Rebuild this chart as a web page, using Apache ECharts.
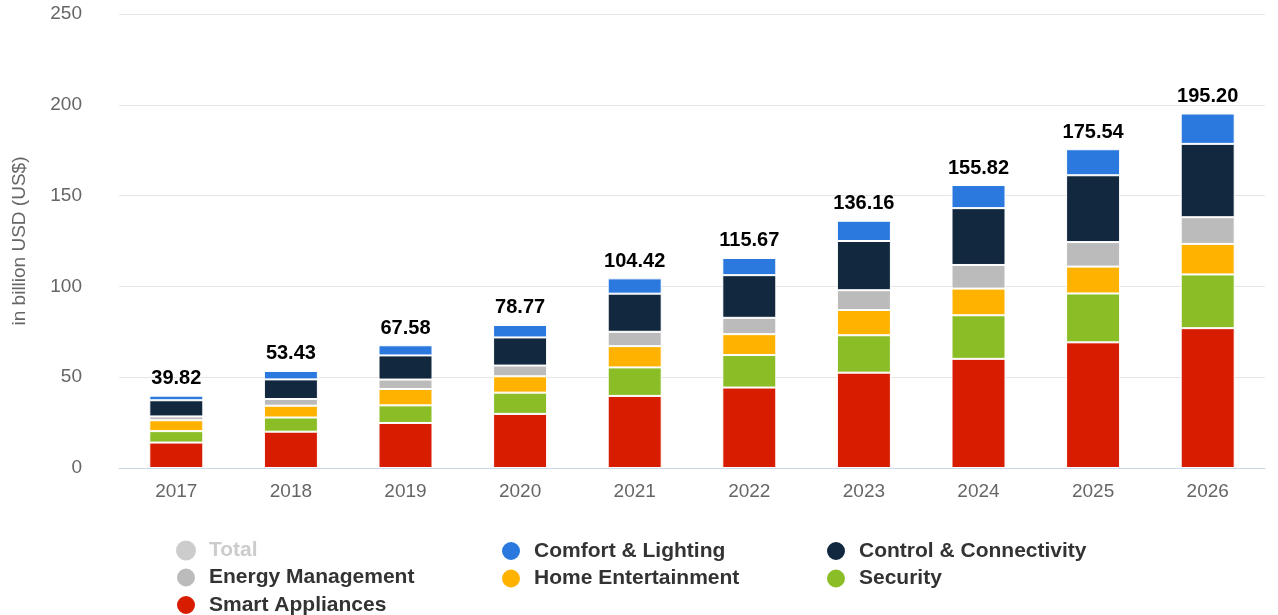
<!DOCTYPE html>
<html>
<head>
<meta charset="utf-8">
<script src="https://cdn.jsdelivr.net/npm/echarts@6/dist/echarts.min.js"></script>
<style>
html,body{margin:0;padding:0;background:#fff;}
#chart{width:1278px;height:615px;}
</style>
</head>
<body>
<div id="chart"></div>
<script>
const years = ['2017','2018','2019','2020','2021','2022','2023','2024','2025','2026'];
const totals = [39.82, 53.43, 67.58, 78.77, 104.42, 115.67, 136.16, 155.82, 175.54, 195.20];
const smartAppliances   = [14.0, 20.0, 24.8, 29.8, 39.7, 44.3, 52.5, 60.1, 69.2, 77.0];
const security          = [6.3, 7.8, 9.7, 11.7, 15.7, 17.9, 20.6, 24.0, 26.9, 29.6];
const homeEntertainment = [6.0, 6.5, 9.0, 9.0, 11.7, 11.5, 13.9, 14.7, 14.8, 16.8];
const energyManagement  = [2.1, 3.7, 5.2, 5.9, 7.9, 9.0, 10.9, 13.0, 13.5, 14.7];
const controlConnectivity = [8.9, 10.8, 13.3, 15.5, 21.0, 23.5, 27.1, 31.3, 36.8, 40.4];
const comfortLighting   = [2.52, 4.63, 5.58, 6.87, 8.42, 9.47, 11.16, 12.72, 14.34, 16.7];

const FONT = '"Liberation Sans", Arial, Helvetica, sans-serif';
const chart = echarts.init(document.getElementById('chart'), null, {renderer:'canvas'});

function seg(name, data, color, extra) {
  return Object.assign({
    name: name, type: 'bar', stack: 'a', data: data, barWidth: 54,
    itemStyle: {color: color, borderColor: '#ffffff', borderWidth: 1},
    emphasis: {disabled: true}
  }, extra || {});
}

const legendBase = {
  orient: 'vertical', icon: 'circle', itemWidth: 20, itemHeight: 20, itemGap: 5.5,
  padding: 0, height: 80,
  inactiveColor: '#cccccc',
  textStyle: {fontFamily: FONT, fontSize: 21, fontWeight: 'bold', color: '#333333', lineHeight: 20, padding: [0,0,0,8]},
  top: 540
};

chart.setOption({
  animation: false,
  textStyle: {fontFamily: FONT},
  grid: {left: 119, right: 13, top: 14, bottom: 147},
  legend: [
    Object.assign({}, legendBase, {left: 175, data: ['Total','Energy Management','Smart Appliances'], selected: {'Total': false}}),
    Object.assign({}, legendBase, {left: 500, data: ['Comfort & Lighting','Home Entertainment']}),
    Object.assign({}, legendBase, {left: 825, data: ['Control & Connectivity','Security']})
  ],
  xAxis: {
    type: 'category', data: years,
    axisLine: {lineStyle: {color: '#ccd6eb', width: 1}},
    axisTick: {alignWithLabel: true, length: 10, lineStyle: {color: '#ccd6eb'}},
    axisLabel: {color: '#666666', fontSize: 19, margin: 14, fontFamily: FONT}
  },
  yAxis: {
    type: 'value', min: 0, max: 250, interval: 50,
    name: 'in billion USD (US$)', nameLocation: 'middle', nameGap: 90,
    nameTextStyle: {color: '#666666', fontSize: 19, fontFamily: FONT},
    axisLine: {show: false}, axisTick: {show: false},
    axisLabel: {color: '#666666', fontSize: 19, margin: 37, fontFamily: FONT},
    splitLine: {lineStyle: {color: '#e6e6e6', width: 1}}
  },
  series: [
    {name: 'Total', type: 'bar', data: totals, barWidth: 54, itemStyle: {color: '#cccccc'}, barGap: '-100%'},
    seg('Smart Appliances', smartAppliances, '#d81c00'),
    seg('Security', security, '#8bbd27'),
    seg('Home Entertainment', homeEntertainment, '#ffb200'),
    seg('Energy Management', energyManagement, '#bbbbbb'),
    seg('Control & Connectivity', controlConnectivity, '#12283f'),
    seg('Comfort & Lighting', comfortLighting, '#2b79de', {
      label: {show: true, position: 'top', distance: 7, color: '#000000', fontSize: 20, fontWeight: 'bold', fontFamily: FONT,
        formatter: function(p){ return totals[p.dataIndex].toFixed(2); }}
    })
  ]
});
</script>
</body>
</html>
